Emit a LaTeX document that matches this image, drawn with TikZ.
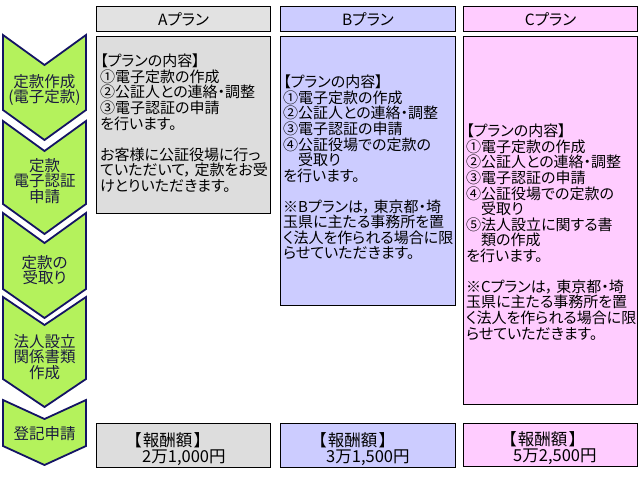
\documentclass[tikz,border=0pt]{standalone}
\usepackage{fontspec}
\setmainfont{Noto Sans CJK JP}[RawFeature=+palt]
\definecolor{chgreen}{HTML}{B4F25C}
\definecolor{chnavy}{HTML}{141464}
\definecolor{chtext}{HTML}{1A1A40}
\definecolor{fillA}{HTML}{DDDDDD}
\definecolor{hdrA}{HTML}{E2E2E2}
\definecolor{fillB}{HTML}{CCCCFF}
\definecolor{fillC}{HTML}{FFCCFF}
\newcommand{\cm}{，\kern3pt}
\begin{document}
\begin{tikzpicture}[x=1pt,y=-1pt,
  chev/.style={fill=chgreen,draw=chnavy,line width=1.8pt,line join=miter},
  ctext/.style={align=center,text=chtext,inner sep=0pt,font=\fontsize{15.5}{15.5}\selectfont},
  panel/.style={draw=black,line width=1pt,anchor=north west,inner sep=0pt,minimum width=174pt},
  hdr/.style={panel,minimum height=25pt,font=\fontsize{15.5}{16}\selectfont},
  btext/.style={anchor=north west,align=left,inner sep=0pt,font=\fontsize{15}{15.55}\selectfont},
  ptext/.style={anchor=north west,align=left,inner sep=0pt,font=\fontsize{16.5}{16}\selectfont}]
\useasboundingbox (0,0) rectangle (640,480);
\fill[white] (0,0) rectangle (640,480);
% chevrons
\draw[chev] (3,35) -- (44.5,65) -- (86,35) -- (86,110) -- (44.5,140) -- (3,110) -- cycle;
\draw[chev] (3,121) -- (44.5,151) -- (86,121) -- (86,204) -- (44.5,234) -- (3,204) -- cycle;
\draw[chev] (3,213) -- (44.5,243) -- (86,213) -- (86,289) -- (44.5,318) -- (3,289) -- cycle;
\draw[chev] (3,297) -- (44.5,325) -- (86,297) -- (86,379) -- (44.5,407) -- (3,379) -- cycle;
\draw[chev] (3,400) -- (44.5,419) -- (86,400) -- (86,446) -- (44.5,465) -- (3,446) -- cycle;
\node[ctext] (s1) at (44.5,90) {定款作成\\(電子定款)};
\node[ctext] (s2) at (44.5,181) {定款\\電子認証\\申請};
\node[ctext] (s3) at (44.5,270) {定款の\\受取り};
\node[ctext] (s4) at (44.5,357) {法人設立\\関係書類\\作成};
\node[ctext] (s5) at (44.5,434) {登記申請};
% headers
\node[hdr,fill=hdrA] (hA) at (96,6) {Aプラン};
\node[hdr,fill=fillB,minimum width=175pt] (hB) at (280,6) {Bプラン};
\node[hdr,fill=fillC] (hC) at (463,6) {Cプラン};
% content panels
\node[panel,fill=fillA,minimum height=177pt] (bA) at (96,36) {};
\node[panel,fill=fillB,minimum width=175pt,minimum height=269pt] (bB) at (280,36) {};
\node[panel,fill=fillC,minimum height=368pt] (bC) at (463,36) {};
\node[btext] (tA) at (100,54) {【プランの内容】\\①電子定款の作成\\②公証人との連絡・調整\\③電子認証の申請\\を行います。\\[15.55pt]お客様に公証役場に行っ\\ていただいて\cm 定款をお受\\けとりいただきます。};
\node[btext] (tB) at (283,75) {【プランの内容】\\①電子定款の作成\\②公証人との連絡・調整\\③電子認証の申請\\④公証役場での定款の\\　受取り\\を行います。\\[15.55pt]※Bプランは\cm 東京都・埼\\玉県に主たる事務所を置\\く法人を作られる場合に限\\らせていただきます。};
\node[btext] (tC) at (466,124) {【プランの内容】\\①電子定款の作成\\②公証人との連絡・調整\\③電子認証の申請\\④公証役場での定款の\\　受取り\\⑤法人設立に関する書\\　類の作成\\を行います。\\[15.55pt]※Cプランは\cm 東京都・埼\\玉県に主たる事務所を置\\く法人を作られる場合に限\\らせていただきます。};
% price panels
\node[panel,fill=fillA,minimum height=44pt] (pA) at (96,423) {};
\node[panel,fill=fillB,minimum width=175pt,minimum height=44pt] (pB) at (280,423) {};
\node[panel,fill=fillC,minimum height=43pt] (pC) at (463,423) {};
\node[ptext] (qA) at (133,432) {【\kern1.5pt報酬額\kern1.5pt】\\\hspace*{9pt}2万1,000円};
\node[ptext] (qB) at (318,432) {【\kern1.5pt報酬額\kern1.5pt】\\\hspace*{8pt}3万1,500円};
\node[ptext] (qC) at (508,431) {【\kern1.5pt報酬額\kern1.5pt】\\\hspace*{5pt}5万2,500円};
\end{tikzpicture}
\end{document}
